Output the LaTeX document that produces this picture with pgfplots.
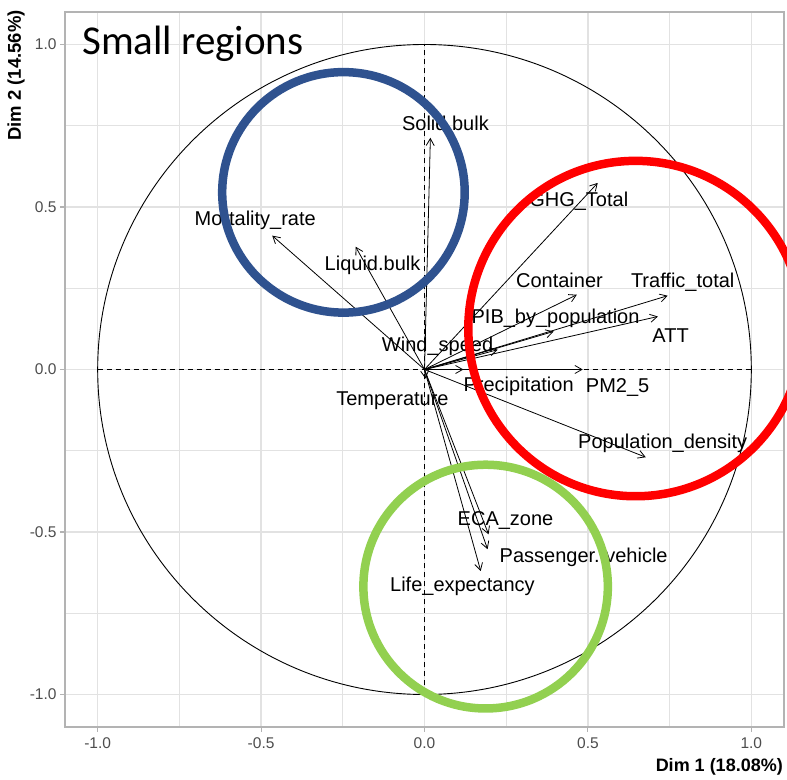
\documentclass[border=0pt]{standalone}
\usepackage{pgfplots}
\pgfplotsset{compat=1.18}
\usepackage{fontspec}
\setmainfont{Liberation Sans}
\newfontfamily\calibri{Carlito}
\usetikzlibrary{arrows.meta}
\definecolor{gridc}{HTML}{E2E2E2}
\definecolor{borderc}{HTML}{B3B3B3}
\definecolor{tickc}{HTML}{4D4D4D}
\definecolor{blueC}{HTML}{2F528F}
\definecolor{redC}{HTML}{FF0000}
\definecolor{greenC}{HTML}{92D050}
\tikzset{
  arr/.style={black, line width=0.8pt, -{Straight Barb[length=7pt,width=8pt]}},
  lab/.style={font=\fontsize{20}{23}\selectfont, text=black, inner sep=0pt},
}
\begin{document}
\begin{tikzpicture}[x=1pt,y=1pt]
\useasboundingbox (0,0) rectangle (787,779);
\begin{axis}[
  at={(65pt,52pt)}, anchor=south west,
  width=719pt, height=715pt, scale only axis,
  xmin=-1.1, xmax=1.1, ymin=-1.1, ymax=1.1,
  xtick={-1,-0.5,0,0.5,1}, ytick={-1,-0.5,0,0.5,1},
  xticklabels={-1.0,-0.5,0.0,0.5,1.0},
  yticklabels={-1.0,-0.5,0.0,0.5,1.0},
  minor xtick={-0.75,-0.25,0.25,0.75},
  minor ytick={-0.75,-0.25,0.25,0.75},
  grid=both,
  major grid style={gridc, line width=1.3pt},
  minor grid style={gridc, line width=0.9pt},
  axis line style={draw=borderc, line width=1.3pt},
  tick align=outside, xtick pos=bottom, ytick pos=left,
  major tick length=5pt, minor tick length=0pt,
  tick style={borderc, line width=1.1pt},
  xticklabel style={font=\fontsize{15.5}{18}\selectfont, text=tickc, yshift=-2pt},
  yticklabel style={font=\fontsize{15.5}{18}\selectfont, text=tickc},
  clip=false,
]
% unit circle
\draw[black, line width=0.9pt] (axis cs:0,0) ellipse [x radius=1, y radius=1];
% dashed axes
\addplot[black, line width=0.9pt, dash pattern=on 5pt off 4pt] coordinates {(-1,0) (1,0)};
\addplot[black, line width=0.9pt, dash pattern=on 5pt off 4pt] coordinates {(0,-1) (0,1)};
% variable arrows
\addplot[arr] coordinates {(0,0) (0.018,0.713)};   % Solid.bulk
\addplot[arr] coordinates {(0,0) (-0.466,0.412)};  % Mortality_rate
\addplot[arr] coordinates {(0,0) (-0.211,0.378)};  % Liquid.bulk
\addplot[arr] coordinates {(0,0) (0.530,0.574)};   % GHG_Total
\addplot[arr] coordinates {(0,0) (0.466,0.230)};   % Container
\addplot[arr] coordinates {(0,0) (0.744,0.227)};   % Traffic_total
\addplot[arr] coordinates {(0,0) (0.714,0.163)};   % ATT
\addplot[arr] coordinates {(0,0) (0.395,0.117)};   % PIB_by_population
\addplot[arr] coordinates {(0,0) (0.224,0.061)};   % Wind_speed
\addplot[arr] coordinates {(0,0) (0.119,0.000)};   % Precipitation
\addplot[arr] coordinates {(0,0) (0.484,0.000)};   % PM2_5
\addplot[arr] coordinates {(0,0) (0.003,-0.028)};  % Temperature
\addplot[arr] coordinates {(0,0) (0.677,-0.270)};  % Population_density
\addplot[arr] coordinates {(0,0) (0.196,-0.507)};  % ECA_zone
\addplot[arr] coordinates {(0,0) (0.193,-0.553)};  % Passenger..vehicle
\addplot[arr] coordinates {(0,0) (0.172,-0.620)};  % Life_expectancy
% labels
\node[lab] at (axis cs:0.064,0.756) {Solid.bulk};
\node[lab] at (axis cs:-0.518,0.458) {Mortality\_rate};
\node[lab] at (axis cs:-0.159,0.322) {Liquid.bulk};
\node[lab] at (axis cs:0.472,0.519) {GHG\_Total};
\node[lab] at (axis cs:0.413,0.273) {Container};
\node[lab] at (axis cs:0.790,0.270) {Traffic\_total};
\node[lab] at (axis cs:0.753,0.104) {ATT};
\node[lab] at (axis cs:0.401,0.157) {PIB\_by\_population};
\node[lab] at (axis cs:0.040,0.071) {Wind\_speed};
\node[lab] at (axis cs:0.288,-0.052) {Precipitation};
\node[lab] at (axis cs:0.591,-0.055) {PM2\_5};
\node[lab] at (axis cs:-0.098,-0.095) {Temperature};
\node[lab] at (axis cs:0.729,-0.227) {Population\_density};
\node[lab] at (axis cs:0.248,-0.464) {ECA\_zone};
\node[lab] at (axis cs:0.487,-0.577) {Passenger..vehicle};
\node[lab] at (axis cs:0.116,-0.666) {Life\_expectancy};
% highlight circles
\draw[blueC, line width=8.5pt] (axis cs:-0.248,0.545) ellipse [x radius=0.371, y radius=0.370];
\draw[redC, line width=8.5pt] (axis cs:0.646,0.126) ellipse [x radius=0.512, y radius=0.516];
\draw[greenC, line width=8.5pt] (axis cs:0.187,-0.668) ellipse [x radius=0.374, y radius=0.375];
\end{axis}
\node[anchor=base west, font=\calibri\fontsize{41}{49}\selectfont, inner sep=0pt] at (82,724) {Small regions};
\node[anchor=east, font=\bfseries\fontsize{18}{22}\selectfont, inner sep=0pt] at (783,12) {Dim 1 (18.08\%)};
\node[rotate=90, anchor=east, font=\bfseries\fontsize{18.5}{22}\selectfont, inner sep=0pt] at (16,769) {Dim 2 (14.56\%)};
\end{tikzpicture}
\end{document}
